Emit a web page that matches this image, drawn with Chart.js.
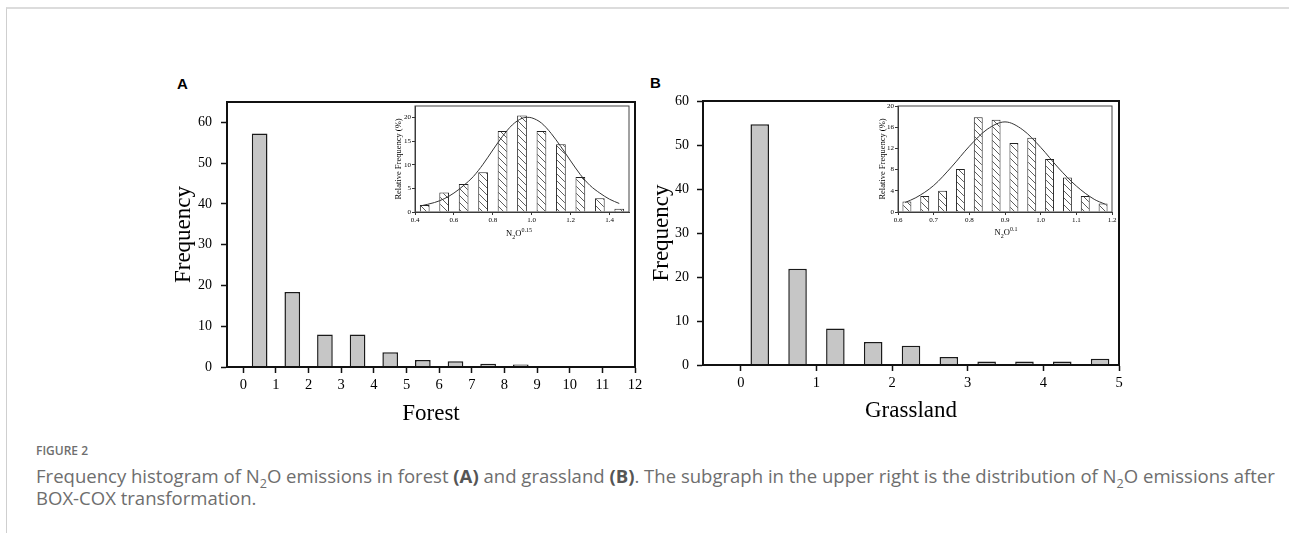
<!DOCTYPE html>
<html><head><meta charset="utf-8">
<script src="https://cdn.jsdelivr.net/npm/chart.js@4.4.1/dist/chart.umd.min.js"></script>
<style>
html,body{margin:0;padding:0;background:#fff;}
body{width:1289px;height:533px;position:relative;overflow:hidden;font-family:"Open Sans",sans-serif;}
canvas{position:absolute;}
.pframe{position:absolute;left:6px;top:7px;width:1283px;height:526px;border-top:2px solid #dcdcdc;border-left:1px solid #cfcfcf;box-sizing:border-box;}
.plab{position:absolute;font:bold 15px "Liberation Sans",Arial,sans-serif;color:#000;line-height:15px;}
.ititle{position:absolute;font:8.5px "Liberation Serif",serif;color:#000;line-height:10px;white-space:nowrap;transform:translateX(-50%);}
.ititle sub,.ititle sup{font-size:6px;line-height:0;}
.cap{position:absolute;left:36px;color:#6e6e6e;white-space:nowrap;}
.cap sub{font-size:0.68em;line-height:0;}
.cap b{color:#555;}
</style></head>
<body>
<div class="pframe"></div>
<div class="plab" style="left:177px;top:76px">A</div>
<div class="plab" style="left:650px;top:75px">B</div>
<canvas id="mainA" width="500" height="360" style="left:150px;top:80px"></canvas>
<canvas id="mainB" width="500" height="360" style="left:630px;top:80px"></canvas>
<canvas id="insetA" width="250" height="142" style="left:385px;top:100px"></canvas>
<canvas id="insetB" width="250" height="142" style="left:868px;top:100px"></canvas>
<div class="ititle" style="left:519px;top:228px">N<sub>2</sub>O<sup>0.15</sup></div>
<div class="ititle" style="left:1006px;top:227px">N<sub>2</sub>O<sup>0.1</sup></div>
<div class="cap" style="top:444px;font-size:12px;font-weight:600;line-height:14px;">FIGURE 2</div>
<div class="cap" id="cap1" style="top:465px;font-size:16px;line-height:22px;">Frequency histogram of N<sub>2</sub>O emissions in forest <b>(A)</b> and grassland <b>(B)</b>. The subgraph in the upper right is the distribution of N<sub>2</sub>O emissions after</div>
<div class="cap" id="cap2" style="top:487px;font-size:16px;line-height:22px;">BOX-COX transformation.</div>
<script>
// ---- Panel A (Forest) main histogram ----
const forestBinCenters = [0.5,1.5,2.5,3.5,4.5,5.5,6.5,7.5,8.5,9.5,10.5,11.5];
const forestFrequency  = [57.3,18.4,8.0,8.0,3.6,1.7,1.4,0.8,0.6,0.2,0,0.2];
const forestTicksX = [0,1,2,3,4,5,6,7,8,9,10,11,12];
const forestTicksY = [0,10,20,30,40,50,60];
// ---- Panel A inset (BOX-COX) ----
const forestBoxCenters = [0.45,0.55,0.65,0.75,0.85,0.95,1.05,1.15,1.25,1.35,1.45];
const forestBoxRelFreq = [1.5,4.1,5.9,8.4,17.1,20.4,17.1,14.3,7.4,2.9,0.7];
const forestCurveX = [0.43,0.5,0.55,0.6,0.65,0.7,0.75,0.8,0.85,0.9,0.95,0.98,1.0,1.05,1.1,1.15,1.2,1.25,1.3,1.35,1.4,1.45];
const forestCurveY = [1.3,2.0,2.8,4.0,5.6,7.5,10.1,13.1,16.0,18.4,19.8,20.0,19.9,18.8,16.6,13.8,10.8,7.9,5.6,4.0,2.7,1.8];
const forestInsetTicksX = [0.4,0.6,0.8,1.0,1.2,1.4];
const forestInsetTicksY = [0,5,10,15,20];
// ---- Panel B (Grassland) main histogram ----
const grassBinCenters = [0.25,0.75,1.25,1.75,2.25,2.75,3.25,3.75,4.25,4.75];
const grassFrequency  = [54.7,21.9,8.3,5.2,4.4,1.8,0.8,0.8,0.8,1.4];
const grassTicksX = [0,1,2,3,4,5];
const grassTicksY = [0,10,20,30,40,50,60];
// ---- Panel B inset (BOX-COX) ----
const grassBoxCenters = [0.625,0.675,0.725,0.775,0.825,0.875,0.925,0.975,1.025,1.075,1.125,1.175];
const grassBoxRelFreq = [2.0,3.0,4.0,8.1,17.9,17.4,13.0,14.0,10.0,6.5,3.0,1.6];
const grassCurveX = [0.62,0.65,0.7,0.75,0.8,0.85,0.9,0.95,1.0,1.05,1.1,1.15,1.18];
const grassCurveY = [1.8,2.7,5.0,8.5,12.4,15.6,17.0,15.5,12.2,8.3,4.9,2.4,1.5];
const grassInsetTicksX = [0.6,0.7,0.8,0.9,1.0,1.1,1.2];
const grassInsetTicksY = [0,4,8,12,16,20];

const SERIF = '"Liberation Serif","Times New Roman",serif';

// fit caption width to the reference text block
(function(){
  const c1=document.getElementById('cap1'), c2=document.getElementById('cap2');
  const w=c1.getBoundingClientRect().width;
  const f=16*1240/w;
  c1.style.fontSize=f+'px'; c2.style.fontSize=f+'px';
})();

const framePlugin = {
  id:'frame',
  afterDraw(chart, args, opts){
    const {ctx, chartArea:a} = chart;
    ctx.save();
    ctx.strokeStyle = opts.color || '#111';
    ctx.lineWidth = opts.width || 1;
    ctx.strokeRect(a.left, a.top, a.right-a.left, a.bottom-a.top);
    ctx.restore();
  }
};

function hatch(){
  const n=7;
  const c=document.createElement('canvas'); c.width=n; c.height=n;
  const g=c.getContext('2d');
  g.fillStyle='#fff'; g.fillRect(0,0,n,n);
  g.strokeStyle='#333'; g.lineWidth=0.8;
  g.beginPath();
  g.moveTo(-1,-1); g.lineTo(n+1,n+1);
  g.moveTo(-1,n-1); g.lineTo(1,n+1);
  g.moveTo(n-1,-1); g.lineTo(n+1,1);
  g.stroke();
  return g.createPattern(c,'repeat');
}

function pts(xs, ys){ return xs.map((x,i)=>({x:x, y:ys[i]})); }

function mainChart(id, xs, ys, xTicks, yTicks, o){
  return new Chart(document.getElementById(id), {
    type:'bar',
    data:{datasets:[{data:pts(xs,ys), backgroundColor:'#c6c6c6', borderColor:'#1a1a1a', borderWidth:1.5,
      barPercentage:o.barPct, categoryPercentage:1}]},
    options:{responsive:false, animation:false, events:[],
      layout:{padding:{top:o.padTop, right:o.padRight, left:0, bottom:0}},
      plugins:{legend:{display:false}, tooltip:{enabled:false}, frame:{width:2,color:'#111'}},
      scales:{
        x:{type:'linear', min:o.xMin, max:o.xMax, offset:false,
          afterFit:s=>{s.height=o.xH;},
          afterBuildTicks:s=>{s.ticks=xTicks.map(v=>({value:v}));},
          grid:{display:true, offset:false, drawOnChartArea:false, drawTicks:true, tickLength:6, tickColor:'#111', tickWidth:1.5},
          border:{display:true, color:'#111', width:2},
          ticks:{color:'#000', font:{family:SERIF, size:14.5}, padding:3, maxRotation:0, autoSkip:false},
          title:{display:true, text:o.xTitle, color:'#000', font:{family:SERIF, size:23}, padding:{top:0,bottom:o.xTitlePad}}
        },
        y:{type:'linear', min:0, max:o.yMax,
          afterFit:s=>{s.width=o.yW;},
          afterBuildTicks:s=>{s.ticks=yTicks.map(v=>({value:v}));},
          grid:{display:true, drawOnChartArea:false, drawTicks:true, tickLength:6, tickColor:'#111', tickWidth:1.5},
          border:{display:true, color:'#111', width:2},
          ticks:{color:'#000', font:{family:SERIF, size:14}, padding:o.yTickPad},
          title:{display:true, text:'Frequency', color:'#000', font:{family:SERIF, size:23}, padding:{top:o.yTitlePad,bottom:0}}
        }
      }
    },
    plugins:[framePlugin]
  });
}

function insetChart(id, bx, by, cx, cy, xTicks, yTicks, o){
  return new Chart(document.getElementById(id), {
    type:'bar',
    data:{datasets:[
      {type:'line', data:pts(cx,cy), borderColor:'#333', borderWidth:1, pointRadius:0, fill:false,
        cubicInterpolationMode:'monotone', order:0},
      {type:'bar', data:pts(bx,by), backgroundColor:hatch(), borderColor:'#222', borderWidth:1,
        barPercentage:0.5, categoryPercentage:1, order:1}
    ]},
    options:{responsive:false, animation:false, events:[],
      layout:{padding:{top:6, right:o.padRight, left:0, bottom:0}},
      plugins:{legend:{display:false}, tooltip:{enabled:false}, frame:{width:1,color:'#444'}},
      scales:{
        x:{type:'linear', min:o.xMin, max:o.xMax, offset:false,
          afterFit:s=>{s.height=30;},
          afterBuildTicks:s=>{s.ticks=xTicks.map(v=>({value:v}));},
          grid:{display:true, offset:false, drawOnChartArea:false, drawTicks:true, tickLength:3, tickColor:'#333', tickWidth:1},
          border:{display:true, color:'#333', width:1},
          ticks:{color:'#000', font:{family:SERIF, size:7}, padding:1, maxRotation:0, autoSkip:false,
            callback:v=>Number(v).toFixed(1)}
        },
        y:{type:'linear', min:0, max:o.yMax,
          afterFit:s=>{s.width=30;},
          afterBuildTicks:s=>{s.ticks=yTicks.map(v=>({value:v}));},
          grid:{display:true, drawOnChartArea:false, drawTicks:true, tickLength:3, tickColor:'#333', tickWidth:1},
          border:{display:true, color:'#333', width:1},
          ticks:{color:'#000', font:{family:SERIF, size:7}, padding:1},
          title:{display:true, text:'Relative Frequency (%)', color:'#000', font:{family:SERIF, size:8.5}, padding:{top:o.yTitlePad,bottom:0}}
        }
      }
    },
    plugins:[framePlugin]
  });
}

mainChart('mainA', forestBinCenters, forestFrequency, forestTicksX, forestTicksY,
  {barPct:0.48, padTop:22, padRight:15, xMin:-0.5, xMax:12, yMax:65, xH:73, yW:77,
   xTitle:'Forest', xTitlePad:12, yTitlePad:20, yTickPad:9});
mainChart('mainB', grassBinCenters, grassFrequency, grassTicksX, grassTicksY,
  {barPct:0.49, padTop:21, padRight:11, xMin:-0.5, xMax:5, yMax:60, xH:75, yW:73,
   xTitle:'Grassland', xTitlePad:15, yTitlePad:18, yTickPad:8});
insetChart('insetA', forestBoxCenters, forestBoxRelFreq, forestCurveX, forestCurveY, forestInsetTicksX, forestInsetTicksY,
  {padRight:6, xMin:0.4, xMax:1.5, yMax:22.4, yTitlePad:9});
insetChart('insetB', grassBoxCenters, grassBoxRelFreq, grassCurveX, grassCurveY, grassInsetTicksX, grassInsetTicksY,
  {padRight:6, xMin:0.6, xMax:1.2, yMax:20, yTitlePad:9.5});
</script>
</body></html>
